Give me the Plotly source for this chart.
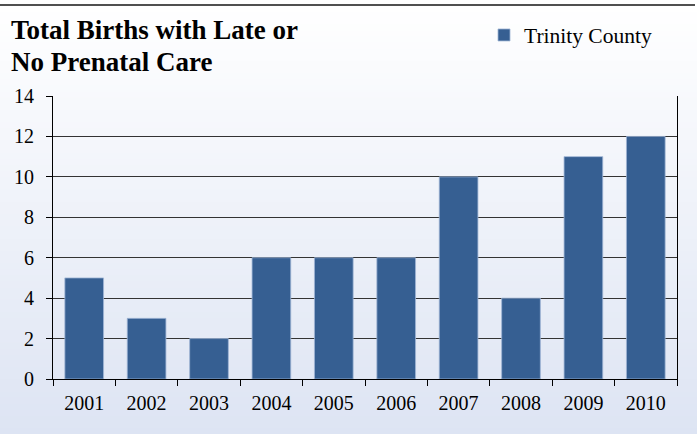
import plotly.graph_objects as go

years = ["2001", "2002", "2003", "2004", "2005", "2006", "2007", "2008", "2009", "2010"]
births = [5, 3, 2, 6, 6, 6, 10, 4, 11, 12]
series_name = "Trinity County"
title_lines = ["Total Births with Late or", "No Prenatal Care"]
y_ticks = [0, 2, 4, 6, 8, 10, 12, 14]

W, H = 697, 434
L, R, T, B = 53, 20, 96, 55
PW, PH = W - L - R, H - T - B
serif = "Liberation Serif"


def px_x(px):
    return (px - L) / PW


def px_y(py):
    return (H - B - py) / PH


fig = go.Figure()
fig.add_trace(go.Bar(
    x=years, y=births, name=series_name,
    marker=dict(color="#365F92", line=dict(color="#9FB5D6", width=0.8)),
    width=0.62,
))

# background gradient (white at top to light blue at bottom)
shapes = []
n = 70
top_c = (255, 255, 255)
bot_c = (221, 228, 243)
top_px = 6
for i in range(n):
    p0 = top_px + (H - top_px) * i / n
    p1 = top_px + (H - top_px) * (i + 1) / n + 0.8
    t = (i + 0.5) / n
    c = tuple(round(top_c[k] + (bot_c[k] - top_c[k]) * t) for k in range(3))
    shapes.append(dict(type="rect", xref="paper", yref="paper",
                       x0=px_x(-5), x1=px_x(W + 5), y0=px_y(p1), y1=px_y(p0),
                       fillcolor="rgb(%d,%d,%d)" % c, line=dict(width=0),
                       layer="below"))
# top frame line
shapes.append(dict(type="line", xref="paper", yref="paper",
                   x0=px_x(0), x1=px_x(695), y0=px_y(5), y1=px_y(5),
                   line=dict(color="#505050", width=2)))

annotations = []
for i, (line, mid) in enumerate(zip(title_lines, [30.5, 61.5])):
    annotations.append(dict(
        text="<b>%s</b>" % line, showarrow=False,
        xref="paper", yref="paper", x=px_x(9), y=px_y(mid),
        xanchor="left", yanchor="middle",
        font=dict(family=serif, size=27, color="black"),
    ))

fig.update_layout(
    width=W, height=H,
    margin=dict(l=L, r=R, t=T, b=B, autoexpand=False),
    paper_bgcolor="rgba(0,0,0,0)",
    plot_bgcolor="rgba(0,0,0,0)",
    shapes=shapes,
    annotations=annotations,
    bargap=0.38,
    font=dict(family=serif, color="black", size=20),
    showlegend=True,
    legend=dict(
        xref="paper", yref="paper",
        x=px_x(484), y=px_y(35), xanchor="left", yanchor="middle",
        bgcolor="rgba(0,0,0,0)",
        font=dict(family=serif, size=21.5, color="black"),
        itemwidth=30,
    ),
    xaxis=dict(
        type="category",
        showline=True, linecolor="black", linewidth=1,
        ticks="outside", ticklen=6, tickcolor="black",
        tickson="boundaries",
        showgrid=False,
        ticklabelstandoff=6,
        tickangle=0,
        tickfont=dict(family=serif, size=20),
    ),
    yaxis=dict(
        range=[0, 14], tickvals=y_ticks,
        showline=True, linecolor="black", linewidth=1, mirror=True,
        ticks="outside", ticklen=6, tickcolor="black",
        showgrid=True, gridcolor="#333333", gridwidth=1,
        zeroline=False,
        ticklabelstandoff=8,
        tickfont=dict(family=serif, size=20),
    ),
)

fig.write_html("out.html")
